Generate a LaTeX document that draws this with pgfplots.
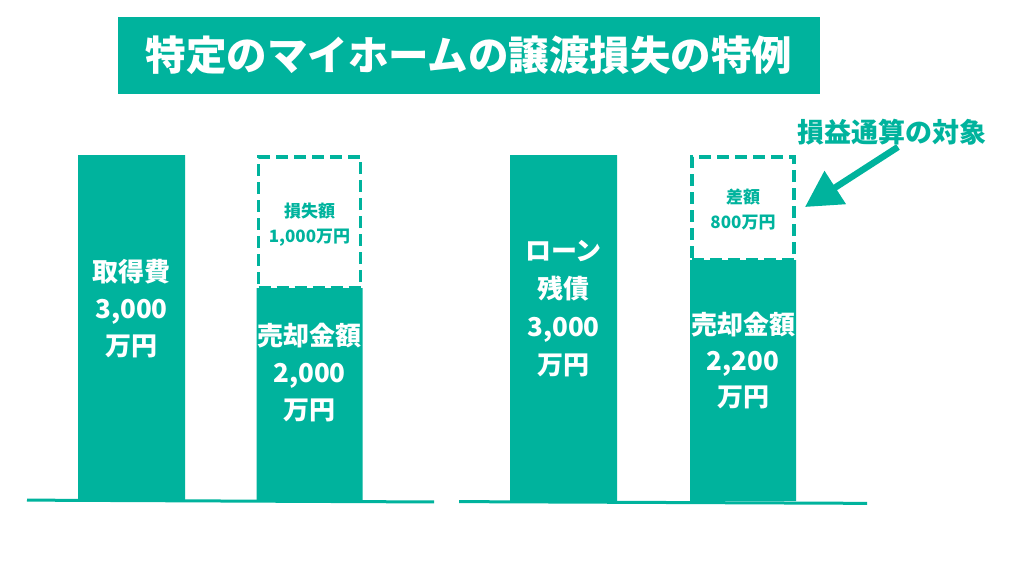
\documentclass[border=0pt]{standalone}
\usepackage{pgfplots}
\pgfplotsset{compat=1.18}
\usepackage{fontspec}
\setmainfont{Noto Sans CJK JP}
\usetikzlibrary{arrows.meta}
\definecolor{tl}{RGB}{0,179,157}
\pgfplotsset{base/.style={
  scale only axis, width=1024pt, height=585pt,
  at={(0,0)}, anchor=south west,
  xmin=0, xmax=1024, ymin=-728, ymax=4345,
  axis lines=none, ticks=none, clip=false}}
\begin{document}
\begin{tikzpicture}
\useasboundingbox (0,0) rectangle (1024pt,585pt);
\begin{axis}[base]
  \addplot[ybar, bar width=107, bar shift=0pt, fill=tl, draw=none]
    coordinates {(131.5,3000) (563.5,3000)};
  \addplot[no marks, line width=3pt, tl] coordinates {(27,8) (434,-8)};
  \addplot[no marks, line width=3pt, tl] coordinates {(459,-5) (867,-20)};
\end{axis}
\begin{axis}[base, ybar stacked, bar shift=0pt]
  \addplot[bar width=106, fill=tl, draw=none]
    coordinates {(309.5,1847) (743,2090)};
  \addplot[bar width=102, fill=none, draw=tl, line width=3.5pt, dash pattern=on 12pt off 6pt]
    coordinates {(309.5,1136) (743,893)};
\end{axis}
% title
\node[fill=tl, minimum width=702pt, minimum height=77pt, inner sep=0pt,
      text=white, font=\fontsize{40.5}{44}\selectfont\bfseries] at (469pt,529.5pt)
      {特定のマイホームの譲渡損失の特例};
% bar labels
\node[text=white, align=center, font=\fontsize{26}{37}\selectfont\bfseries] at (131.5pt,276pt)
  {取得費\\3,000\\万円};
\node[text=white, align=center, font=\fontsize{26}{37}\selectfont\bfseries] at (309.5pt,212pt)
  {売却金額\\2,000\\万円};
\node[text=tl, align=center, font=\fontsize{17}{25}\selectfont\bfseries] at (309.5pt,360pt)
  {損失額\\1,000万円};
\node[text=white, align=center, font=\fontsize{26}{38}\selectfont\bfseries] at (563.5pt,276pt)
  {ローン\\残債\\3,000\\万円};
\node[text=white, align=center, font=\fontsize{26}{36}\selectfont\bfseries] at (743pt,224pt)
  {売却金額\\2,200\\万円};
\node[text=tl, align=center, font=\fontsize{17}{25}\selectfont\bfseries] at (743pt,375pt)
  {差額\\800万円};
\node[text=tl, font=\fontsize{27}{30}\selectfont\bfseries] at (892pt,453pt)
  {損益通算の対象};
\draw[tl, line width=6.5pt, -{Triangle[length=36pt,width=38pt]}] (898pt,438pt) -- (805pt,378pt);
\end{tikzpicture}
\end{document}
